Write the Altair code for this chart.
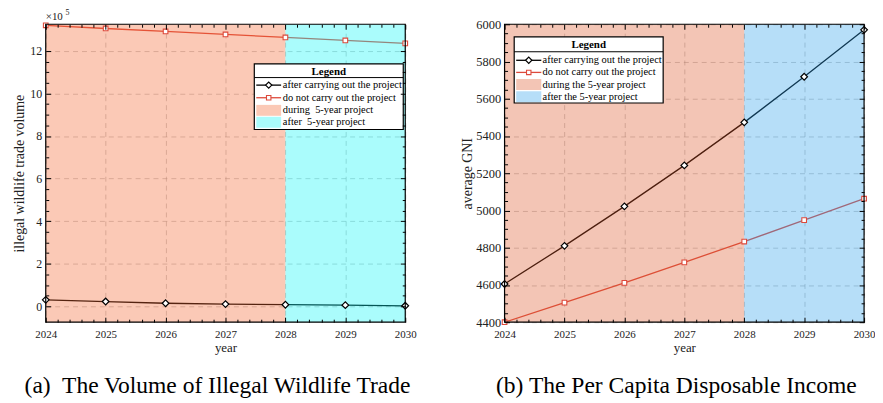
import altair as alt
import pandas as pd

# ---------------- data ----------------
years = [2024, 2025, 2026, 2027, 2028, 2029, 2030]
trade_after = [0.30, 0.22, 0.14, 0.10, 0.07, 0.05, 0.02]      # x 10^5
trade_none = [13.20, 13.05, 12.91, 12.77, 12.63, 12.49, 12.35]  # x 10^5
gni_after = [4605, 4810, 5022, 5242, 5473, 5718, 5970]
gni_none = [4400, 4505, 4611, 4721, 4833, 4948, 5063]
period_start = [2024, 2028]
period_end = [2028, 2030]
period_names = ["during", "after"]
yticks_a = [0, 2, 4, 6, 8, 10, 12]
yticks_b = [4400, 4600, 4800, 5000, 5200, 5400, 5600, 5800, 6000]
legend_a = ["after carrying out the project", "do not carry out the project",
            "during\u00a0 5-year project", "after\u00a0 5-year project"]
legend_b = ["after carrying out the project", "do not carry out the project",
            "during the 5-year project", "after the 5-year project"]
caption_a = "(a)\u00a0 The Volume of Illegal Wildlife Trade"
caption_b = "(b) The Per Capita Disposable Income"

# ---------------- style ----------------
FONT = "Liberation Serif"
TXT = "#222222"
RED = "#dd4a3c"
W, H = 362, 300
OP = 0.35
colors_a = ["#f4652e", "#0cf6f6"]
colors_b = ["#dd592b", "#2ea1eb"]
one = pd.DataFrame({"k": [0]})


def minor(vals, n):
    out = []
    for a, b in zip(vals[:-1], vals[1:]):
        for i in range(1, n):
            out.append(a + (b - a) * i / n)
    return out


def panel(after, none, ydom, yticks, ytitle, yminor_n, region_colors, labels, lg,
          caption, exponent=False, ylabel_size=12, ytitle_pad=3):
    xs = alt.Scale(domain=[2024, 2030], nice=False, zero=False)
    ys = alt.Scale(domain=ydom, nice=False, zero=False)
    df = pd.DataFrame({"year": years, "after": after, "none": none})
    base = alt.Chart(df)

    xaxis = alt.Axis(orient="bottom", values=years, format="d", ticks=False, domain=False,
                     grid=True, gridDash=[5, 4], gridColor="#9a9a9a", gridOpacity=0.5,
                     labelFont=FONT, titleFont=FONT, titleFontWeight="normal",
                     labelFlush=False, labelOverlap=False,
                     labelFontSize=11, labelPadding=6, title="year", titleFontSize=13,
                     titlePadding=3, labelColor=TXT, titleColor=TXT)
    yaxis = alt.Axis(orient="left", values=yticks, format="d", ticks=False, domain=False,
                     grid=True, gridDash=[5, 4], gridColor="#9a9a9a", gridOpacity=0.5,
                     labelFont=FONT, titleFont=FONT, titleFontWeight="normal",
                     labelFlush=False, labelOverlap=False,
                     labelFontSize=ylabel_size, labelPadding=4, title=ytitle, titleFontSize=14,
                     titlePadding=ytitle_pad, labelColor=TXT, titleColor=TXT)

    line_after = base.mark_line(color="black", strokeWidth=1.3).encode(
        x=alt.X("year:Q", scale=xs, axis=xaxis),
        y=alt.Y("after:Q", scale=ys, axis=yaxis))
    line_none = base.mark_line(color=RED, strokeWidth=1.3).encode(
        x=alt.X("year:Q", scale=xs, axis=None),
        y=alt.Y("none:Q", scale=ys, axis=None))

    reg = pd.DataFrame({"start": period_start, "end": period_end, "name": period_names})
    rects = alt.Chart(reg).mark_rect(opacity=OP).encode(
        x=alt.X("start:Q", scale=xs, axis=None),
        x2="end:Q",
        y=alt.value(0), y2=alt.value(H),
        color=alt.Color("name:N", scale=alt.Scale(domain=period_names, range=region_colors),
                        legend=None))

    pts_after = base.mark_point(shape="diamond", size=45, filled=True, fill="white",
                                stroke="black", strokeWidth=1.2, opacity=1).encode(
        x=alt.X("year:Q", scale=xs, axis=None),
        y=alt.Y("after:Q", scale=ys, axis=None))
    pts_none = base.mark_point(shape="square", size=22, filled=True, fill="white",
                               stroke=RED, strokeWidth=1.1, opacity=1).encode(
        x=alt.X("year:Q", scale=xs, axis=None),
        y=alt.Y("none:Q", scale=ys, axis=None))

    # inward ticks on all four sides (major + minor)
    tdf = pd.DataFrame({"year": [years[0]], "v": [ydom[0]]})

    def ticks(xv, yv, size, xo, yo):
        return alt.Chart(tdf).mark_point(opacity=0).encode(
            x=alt.X("year:Q", scale=xs, axis=alt.Axis(
                orient=xo, offset=-H, values=xv, labels=False, domain=False, grid=False,
                ticks=True, tickSize=size, tickColor="black", tickWidth=1, title=None,
                zindex=3)),
            y=alt.Y("v:Q", scale=ys, axis=alt.Axis(
                orient=yo, offset=-W, values=yv, labels=False, domain=False, grid=False,
                ticks=True, tickSize=size, tickColor="black", tickWidth=1, title=None,
                zindex=3)))

    xminor = minor(years, 5)
    yminor = minor(yticks, yminor_n)
    tick_layers = [
        ticks(years, yticks, 5, "top", "right"),
        ticks(years, yticks, 5, "bottom", "left"),
        ticks(xminor, yminor, 3, "top", "right"),
        ticks(xminor, yminor, 3, "bottom", "left"),
    ]

    frame = alt.Chart(one).mark_rect(filled=False, stroke="black", strokeWidth=1.2).encode(
        x=alt.value(0), x2=alt.value(W), y=alt.value(0), y2=alt.value(H))

    # ---- legend box ----
    x0, x1, y0, y1, ty, sy, ey, lx0, lx1, tx = lg
    leg = [
        alt.Chart(one).mark_rect(fill="white", stroke="black", strokeWidth=1.2).encode(
            x=alt.value(x0), x2=alt.value(x1), y=alt.value(y0), y2=alt.value(y1)),
        alt.Chart(one).mark_rule(color="black", strokeWidth=1).encode(
            x=alt.value(x0), x2=alt.value(x1), y=alt.value(sy)),
        alt.Chart(one).mark_text(text="Legend", font=FONT, fontSize=11, fontWeight="bold",
                                 color="black").encode(
            x=alt.value((x0 + x1) / 2), y=alt.value(ty)),
    ]
    mx = (lx0 + lx1) / 2
    leg += [
        alt.Chart(one).mark_rule(color="black", strokeWidth=1.3).encode(
            x=alt.value(lx0), x2=alt.value(lx1), y=alt.value(ey[0])),
        alt.Chart(one).mark_point(shape="diamond", size=40, filled=True, fill="white",
                                  stroke="black", strokeWidth=1.2, opacity=1).encode(
            x=alt.value(mx), y=alt.value(ey[0])),
        alt.Chart(one).mark_rule(color=RED, strokeWidth=1.3).encode(
            x=alt.value(lx0), x2=alt.value(lx1), y=alt.value(ey[1])),
        alt.Chart(one).mark_point(shape="square", size=20, filled=True, fill="white",
                                  stroke=RED, strokeWidth=1.1, opacity=1).encode(
            x=alt.value(mx), y=alt.value(ey[1])),
        alt.Chart(one).mark_rect(color=region_colors[0], opacity=OP).encode(
            x=alt.value(lx0), x2=alt.value(lx1), y=alt.value(ey[2] - 5.5),
            y2=alt.value(ey[2] + 5.5)),
        alt.Chart(one).mark_rect(color=region_colors[1], opacity=OP).encode(
            x=alt.value(lx0), x2=alt.value(lx1), y=alt.value(ey[3] - 5.5),
            y2=alt.value(ey[3] + 5.5)),
    ]
    for lab, yy in zip(labels, ey):
        leg.append(alt.Chart(one).mark_text(text=lab, font=FONT, fontSize=10.5, align="left",
                                            baseline="middle", color="black").encode(
            x=alt.value(tx), y=alt.value(yy)))

    extra = []
    if exponent:
        extra = [
            alt.Chart(one).mark_text(text="×10", font=FONT, fontSize=11, align="left",
                                     baseline="middle", color=TXT).encode(
                x=alt.value(0), y=alt.value(-7)),
            alt.Chart(one).mark_text(text="5", font=FONT, fontSize=8, align="left",
                                     baseline="middle", color=TXT).encode(
                x=alt.value(20), y=alt.value(-11)),
        ]

    layers = [line_after, line_none, rects, pts_after, pts_none, frame] + leg + extra + tick_layers
    return alt.layer(*layers).properties(
        width=W, height=H,
        title=alt.TitleParams(caption, orient="bottom", font=FONT, fontSize=23.7,
                              fontWeight="normal", color="black", offset=19, dx=-8))


lg_a = (210, 360, 40, 106, 47.7, 53.7, [61.3, 74.0, 86.7, 98.7], 212, 237, 238.7)
lg_b = (9.7, 159.7, 12.7, 79.3, 20.7, 27.7, [36.3, 48.5, 60.7, 72.9], 11.7, 37, 38.3)

left = panel(trade_after, trade_none, [-0.75, 13.25], yticks_a,
             "illegal wildlife trade volume", 4, colors_a, legend_a, lg_a, caption_a,
             exponent=True)
right = panel(gni_after, gni_none, [4400, 6000], yticks_b, "average GNI", 4, colors_b,
              legend_b, lg_b, caption_b, ylabel_size=12.5, ytitle_pad=1)

chart = alt.hconcat(left, right, spacing=45).resolve_scale(color="independent").properties(
    padding={"left": 5, "top": 0, "right": 0, "bottom": 0}
).configure_view(stroke=None).configure_axis(labelFont=FONT, titleFont=FONT,
                                             titleFontWeight="normal")

chart.save("out.html", embed_options={"renderer": "svg", "actions": False})
